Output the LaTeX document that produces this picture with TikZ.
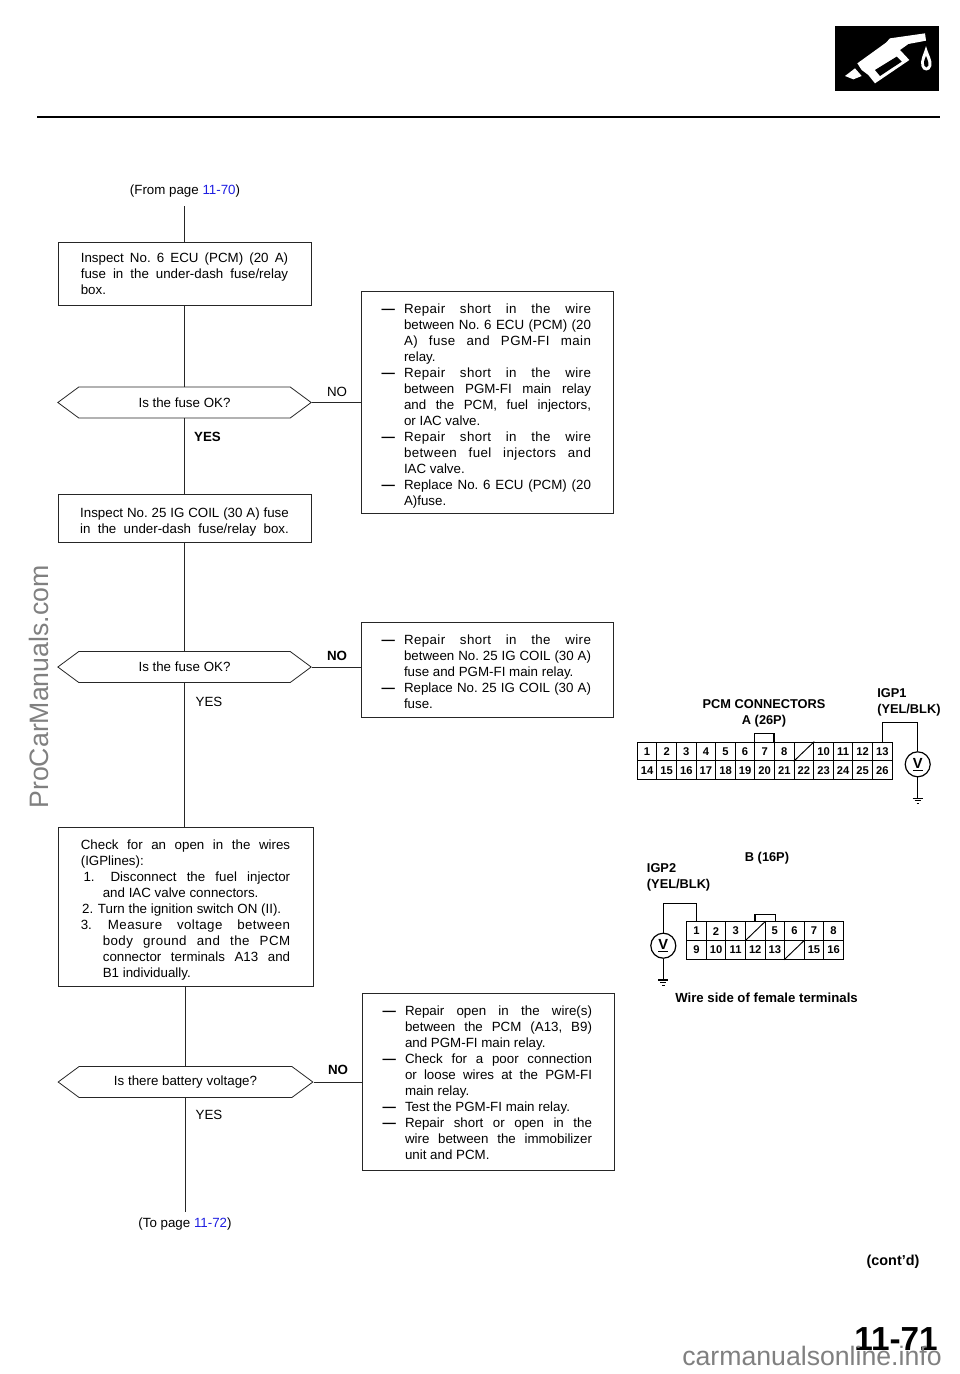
\documentclass[tikz,border=0pt]{standalone}
\usepackage{fontspec}
\setmainfont{Liberation Sans}
\newfontfamily\widefont[LetterSpace=3.0]{Liberation Sans}
\usetikzlibrary{shapes.symbols}
\definecolor{linkblue}{RGB}{30,30,225}
\colorlet{markgray}{black!50}
\tikzset{
    flowline/.style={line width=0.75pt, black!85},
    flowbox/.style={draw=black!85, line width=0.75pt, align=flush left, inner sep=0pt, font=\bodyfont},
    fixbox/.style={flowbox, minimum width=189pt, text width=156pt, execute at begin node={\leftskip=15.75pt\relax}},
    askbox/.style={draw=black!85, line width=0.6pt, signal, signal to=west and east, signal pointer angle=73,
        minimum height=23.25pt, inner sep=0pt, font=\bodyfont},
    tag/.style={inner sep=0pt, font=\bodyfont},
    boldtag/.style={inner sep=0pt, font=\bodyfont\bfseries},
    pincell/.style={draw, line width=0.7pt, minimum width=14.7pt, minimum height=14.1pt, inner sep=0pt,
        font=\fontsize{8.4}{8.4}\selectfont\bfseries},
    voltmeter/.style={draw, circle, line width=0.9pt, minimum size=18.75pt, inner sep=0pt,
        font=\fontsize{11}{11}\selectfont\bfseries},
    partlabel/.style={inner sep=0pt, align=flush left, font=\fontsize{9.6}{12}\selectfont\bfseries},
    watermark/.style={inner sep=0pt, markgray, font=\fontsize{20}{20}\selectfont}
}
\def\bodyfont{\fontsize{10}{12}\selectfont\frenchspacing}
\def\jl#1#2{\makebox[#1][s]{#2}}
\def\lift#1{\leavevmode\rule{0pt}{#1}}
\def\dashmark{\leavevmode\llap{\textbf{—}\hspace{6.75pt}}}
\begin{document}
\begin{tikzpicture}[x=0.75pt, y=-0.75pt]
    \def\acell#1#2#3#4{\node[pincell] (a#3) at ({637.3+19.6*(#1-0.5)},#2) {#4};}
    \def\bcell#1#2#3#4{\node[pincell] (b#3) at ({686.7+19.58*(#1-0.5)},#2) {#4};}
    \def\earth#1{
        \draw[line width=0.8pt] (#1) ++(-5,0) -- ++(10,0);
        \draw[line width=0.8pt] (#1) ++(-3,2.6) -- ++(6,0);
        \draw[line width=0.8pt] (#1) ++(-1.2,5.2) -- ++(2.4,0);
    }

    \useasboundingbox (0,0) rectangle (960,1374);

    % page head
    \draw[line width=1.6pt] (37,117) -- (940,117);
    \begin{scope}[shift={(800,0)}, x=0.25pt, y=-0.25pt]
        \fill (105,77) rectangle (418,272);
        \fill[white] (172,190) -- (258,128) -- (270,115) -- (375,100) -- (378,122) -- (325,132) -- (300,150)
            -- (328,180) -- (225,250) -- (205,225) -- (185,210) -- cycle;
        \fill (225,210) -- (290,170) -- (305,185) -- (240,228) -- cycle;
        \fill[white] (135,228) -- (165,205) -- (185,228) -- (160,238) -- cycle;
        \fill[white] (378,138) .. controls (370,165) and (360,180) .. (364,198)
            .. controls (368,216) and (390,216) .. (394,198) .. controls (398,180) and (385,165) .. (378,138) -- cycle;
        \fill (378,168) .. controls (372,182) and (370,190) .. (373,197)
            .. controls (376,204) and (382,204) .. (385,197) .. controls (387,190) and (383,180) .. (378,168) -- cycle;
    \end{scope}

    % left column
    \node[tag] (frompage) at (185,191) {(From page \textcolor{linkblue}{11-70})};
    \coordinate (fromend) at (184.5,206);

    \node[flowbox, minimum width=189.75pt, minimum height=47.5pt, text width=155.5pt] (ecubox) at (184.5,274) {%
        \jl{155.5pt}{Inspect No. 6 ECU (PCM) (20 A)}\\
        \jl{155.5pt}{fuse in the under-dash fuse/relay}\\
        box.};

    \node[askbox, minimum width=190pt] (fuseaskA) at (184.5,402.5) {Is the fuse OK?};
    \node[boldtag] (yesA) at (207.5,436.5) {YES};

    \node[flowbox, minimum width=189.75pt, minimum height=36pt, text width=156.5pt] (coilbox) at (184.5,518) {%
        \lift{13pt}\jl{156.5pt}{Inspect No. 25 IG COIL (30 A) fuse}\\
        \jl{156.5pt}{in the under-dash fuse/relay box.}};

    \node[askbox, minimum width=190pt] (fuseaskB) at (184.5,667) {Is the fuse OK?};
    \node[tag] (yesB) at (209,702) {YES};

    \node[flowbox, minimum width=191.25pt, minimum height=119.25pt, text width=157pt] (openbox) at (185.5,906.5) {%
        \lift{13pt}\jl{157pt}{Check for an open in the wires}\\
        (IGPlines):\\
        \jl{157pt}{\hspace*{2pt}1.\hspace{12pt}Disconnect the fuel injector}\\
        \hspace*{16.5pt}and IAC valve connectors.\\
        \hspace*{1pt}2.\hspace{3.5pt}Turn the ignition switch ON (II).\\
        \jl{157pt}{3.\hspace{12pt}{\widefont Measure voltage between}}\\
        \hspace*{16.5pt}\jl{140.5pt}{\widefont body ground and the PCM}\\
        \hspace*{16.5pt}\jl{140.5pt}{connector terminals A13 and}\\
        \hspace*{16.5pt}B1 individually.};

    \node[askbox, minimum width=191pt] (voltask) at (185.5,1082) {Is there battery voltage?};
    \node[tag] (yesC) at (209,1115) {YES};

    \node[tag] (topage) at (185,1224) {(To page \textcolor{linkblue}{11-72})};
    \coordinate (toend) at (185.5,1212);

    % right column
    \node[fixbox, minimum height=166.5pt] (shortbox) at (487,402) {%
        \lift{13pt}\dashmark\jl{140.25pt}{\widefont Repair short in the wire}\\
        \jl{140.25pt}{between No. 6 ECU (PCM) (20}\\
        \jl{140.25pt}{\widefont A) fuse and PGM-FI main}\\
        relay.\\
        \dashmark\jl{140.25pt}{\widefont Repair short in the wire}\\
        \jl{140.25pt}{between PGM-FI main relay}\\
        \jl{140.25pt}{and the PCM, fuel injectors,}\\
        or IAC valve.\\
        \dashmark\jl{140.25pt}{\widefont Repair short in the wire}\\
        \jl{140.25pt}{\widefont between fuel injectors and}\\
        IAC valve.\\
        \dashmark\jl{140.25pt}{Replace No. 6 ECU (PCM) (20}\\
        A)fuse.};
    \node[tag] (noA) at (337,392) {NO};

    \node[fixbox, minimum height=71.25pt] (coilfix) at (487,669.5) {%
        \lift{10.5pt}\dashmark\jl{140.25pt}{\widefont Repair short in the wire}\\
        \jl{140.25pt}{between No. 25 IG COIL (30 A)}\\
        fuse and PGM-FI main relay.\\
        \dashmark\jl{140.25pt}{Replace No. 25 IG COIL (30 A)}\\
        fuse.};
    \node[boldtag] (noB) at (337,656) {NO};

    \node[fixbox, minimum height=132.75pt] (openfix) at (488,1081.5) {%
        \lift{9pt}\dashmark\jl{140.25pt}{Repair open in the wire(s)}\\
        \jl{140.25pt}{between the PCM (A13, B9)}\\
        and PGM-FI main relay.\\
        \dashmark\jl{140.25pt}{Check for a poor connection}\\
        \jl{140.25pt}{or loose wires at the PGM-FI}\\
        main relay.\\
        \dashmark Test the PGM-FI main relay.\\
        \dashmark\jl{140.25pt}{Repair short or open in the}\\
        \jl{140.25pt}{wire between the immobilizer}\\
        unit and PCM.};
    \node[boldtag] (noC) at (338,1070) {NO};

    % flow connectors
    \draw[flowline] (fromend) -- (ecubox.north);
    \draw[flowline] (ecubox.south) -- (fuseaskA.north);
    \draw[flowline] (fuseaskA.south) -- (coilbox.north);
    \draw[flowline] (coilbox.south) -- (fuseaskB.north);
    \draw[flowline] (fuseaskB.south) -- (fuseaskB.south |- openbox.north);
    \draw[flowline] (openbox.south) -- (voltask.north);
    \draw[flowline] (voltask.south) -- (toend);
    \draw[flowline] (fuseaskA.east) -- (fuseaskA.east -| shortbox.west);
    \draw[flowline] (fuseaskB.east) -- (fuseaskB.east -| coilfix.west);
    \draw[flowline] (voltask.east) -- (voltask.east -| openfix.west);

    % connector A
    \node[partlabel, align=center] (connAname) at (764,713) {PCM CONNECTORS\\A (26P)};
    \node[partlabel, anchor=west] (igpone) at (877,702.5) {IGP1\\(YEL/BLK)};

    \acell{1}{751.5}{1}{1} \acell{2}{751.5}{2}{2} \acell{3}{751.5}{3}{3} \acell{4}{751.5}{4}{4}
    \acell{5}{751.5}{5}{5} \acell{6}{751.5}{6}{6} \acell{7}{751.5}{7}{7} \acell{8}{751.5}{8}{8}
    \acell{9}{751.5}{9}{} \acell{10}{751.5}{10}{10} \acell{11}{751.5}{11}{11} \acell{12}{751.5}{12}{12}
    \acell{13}{751.5}{13}{13}

    \acell{1}{770.3}{14}{14} \acell{2}{770.3}{15}{15} \acell{3}{770.3}{16}{16} \acell{4}{770.3}{17}{17}
    \acell{5}{770.3}{18}{18} \acell{6}{770.3}{19}{19} \acell{7}{770.3}{20}{20} \acell{8}{770.3}{21}{21}
    \acell{9}{770.3}{22}{22} \acell{10}{770.3}{23}{23} \acell{11}{770.3}{24}{24} \acell{12}{770.3}{25}{25}
    \acell{13}{770.3}{26}{26}

    \draw[line width=0.7pt] (a9.south west) -- (a9.north east);
    \draw[line width=0.9pt] (a7.north west) -- ++(0,-8) -- ++(19.6,0) -- ++(0,8);

    \node[voltmeter] (voltA) at (917.7,764.3) {\underline{V}};
    \coordinate (gndA) at (917.7,798.3);
    \draw[line width=0.8pt] (a13.north) -- ++(0,-19.3) -| (voltA.north);
    \draw[line width=0.8pt] (voltA.south) -- (gndA);
    \earth{gndA}

    % connector B
    \node[partlabel] (connBname) at (767,858) {B (16P)};
    \node[partlabel, anchor=west] (igptwo) at (646.7,877) {IGP2\\(YEL/BLK)};

    \bcell{1}{931.1}{1}{1} \bcell{2}{931.1}{2}{2} \bcell{3}{931.1}{3}{3} \bcell{4}{931.1}{4}{}
    \bcell{5}{931.1}{5}{5} \bcell{6}{931.1}{6}{6} \bcell{7}{931.1}{7}{7} \bcell{8}{931.1}{8}{8}

    \bcell{1}{949.9}{9}{9} \bcell{2}{949.9}{10}{10} \bcell{3}{949.9}{11}{11} \bcell{4}{949.9}{12}{12}
    \bcell{5}{949.9}{13}{13} \bcell{6}{949.9}{14}{} \bcell{7}{949.9}{15}{15} \bcell{8}{949.9}{16}{16}

    \draw[line width=0.7pt] (b4.south west) -- (b4.north east);
    \draw[line width=0.7pt] (b14.south west) -- (b14.north east);
    \draw[line width=0.9pt] (b4.north east) ++(-10.5,0) -- ++(0,-7) -- ++(20.7,0) -- ++(0,7);

    \node[voltmeter] (voltB) at (663.3,945.7) {\underline{V}};
    \coordinate (gndB) at (663.3,980);
    \draw[line width=0.8pt] (b1.north) -- ++(0,-17.4) -| (voltB.north);
    \draw[line width=0.8pt] (voltB.south) -- (gndB);
    \earth{gndB}

    \node[partlabel, anchor=west, font=\fontsize{9.9}{12}\selectfont\bfseries] (wireside) at (675,998) {Wire side of female terminals};

    % page foot
    \node[inner sep=0pt, font=\fontsize{10.8}{10.8}\selectfont\bfseries] (contd) at (893,1262) {(cont’d)};
    \node[inner sep=0pt, anchor=base, font=\fontsize{25}{25}\selectfont\bfseries] (pageno) at (896,1350) {11-71};

    \node[watermark, rotate=90, anchor=base] (sidemark) at (48,687) {ProCarManuals.com};
    \node[watermark, anchor=base west] (footmark) at (682,1365) {carmanualsonline.info};
\end{tikzpicture}
\end{document}
